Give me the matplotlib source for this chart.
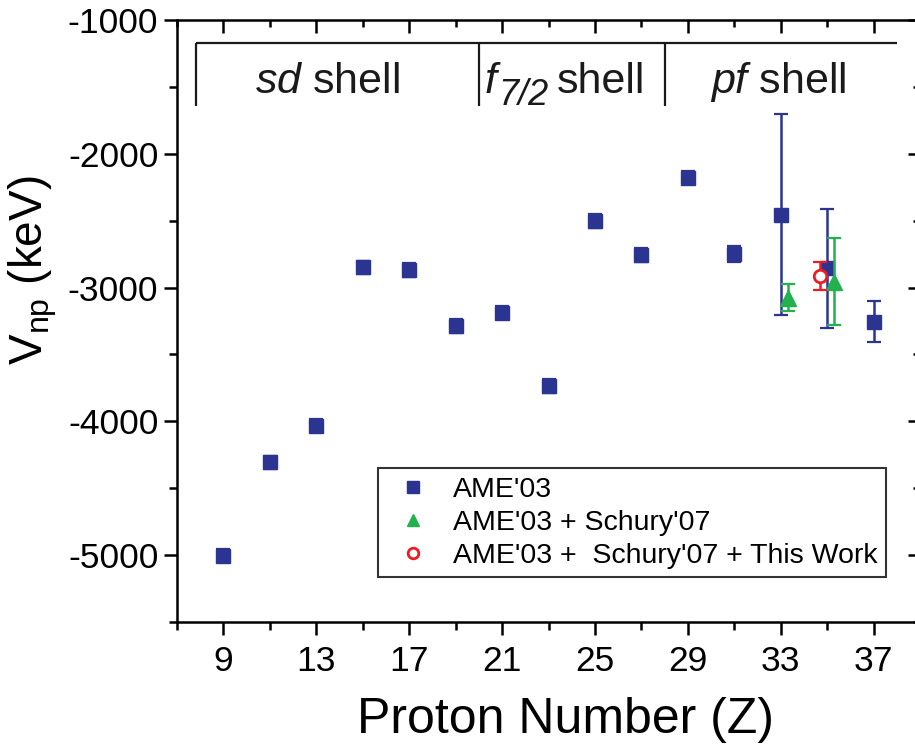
import numpy as np
import matplotlib
matplotlib.use("Agg")
from matplotlib import pyplot as plt

plt.rcParams["font.family"] = "Liberation Sans"
plt.rcParams["mathtext.fontset"] = "custom"
plt.rcParams["mathtext.rm"] = "Liberation Sans"
plt.rcParams["mathtext.it"] = "Liberation Sans:italic"
plt.rcParams["axes.unicode_minus"] = False

# data (V_np in keV)
z_ame = [9, 11, 13, 15, 17, 19, 21, 23, 25, 27, 29, 31, 33, 35, 37]
v_ame = [-5005, -4307, -4033, -2849, -2869, -3288, -3188, -3736, -2503, -2757,
         -2179, -2750, -2456, -2857, -3255]
err_ame = [50, 50, 50, 50, 50, 50, 50, 50, 50, 50, 50, 57, 750, 444, 152]

z_schury = [33.3, 35.3]
v_schury = [-3075, -2955]
err_schury = [100, 325]

z_this = [34.7]
v_this = [-2912]
err_this = [105]

# shell regions (Z boundaries)
shell_edges = [7.8, 20, 28, 38]

blue = "#2B3591"
green = "#22B14C"
red = "#ED1C24"
ink = "#1a1a1a"

fig = plt.figure(figsize=(9.15, 7.51), dpi=100)
ax = fig.add_axes([177 / 915, 129 / 751, (920 - 177) / 915, 602 / 751])

# error bars first, markers on top
ax.errorbar(z_ame, v_ame, yerr=err_ame, fmt="none", ecolor=blue, elinewidth=1.8,
            capsize=5, capthick=1.6, zorder=2)
ax.plot(z_ame, v_ame, "s", color=blue, ms=10, label="AME'03", zorder=3)

ax.errorbar(z_schury, v_schury, yerr=err_schury, fmt="none", ecolor=green, elinewidth=1.8,
            capsize=5.3, capthick=1.6, zorder=4)
ax.plot(z_schury, v_schury, "^", color=green, ms=11, label="AME'03 + Schury'07", zorder=5)

ax.errorbar(z_this, v_this, yerr=err_this, fmt="none", ecolor=red, elinewidth=1.8,
            capsize=4.8, capthick=1.6, zorder=6)
ax.plot(z_this, v_this, "o", mfc="white", mec=red, mew=2.0, ms=9,
        label="AME'03 +  Schury'07 + This Work", zorder=7)

# shell bracket
ax.plot([shell_edges[0], shell_edges[-1]], [-1174, -1174], color=ink, lw=1.6,
        solid_capstyle="butt", zorder=1)
for e in shell_edges[:-1]:
    ax.plot([e, e], [-1174, -1643], color=ink, lw=1.6, solid_capstyle="butt", zorder=1)

ax.text(13.5, -1548, r"$\mathit{sd}$ shell", ha="center", va="baseline", fontsize=31, color=ink)
ax.text(32.9, -1548, r"$\mathit{pf}$ shell", ha="center", va="baseline", fontsize=31, color=ink)
# f_{7/2} shell, built from pieces so the subscript keeps its large size
ax.annotate("f", (20.25, -1548), ha="left", va="baseline", fontsize=31,
            style="italic", color=ink)
ax.annotate("7/2", (20.25, -1548), xytext=(9.5, -8.6), textcoords="offset points",
            ha="left", va="baseline", fontsize=26, style="italic", color=ink)
ax.annotate("shell", (20.25, -1548), xytext=(52, 0), textcoords="offset points",
            ha="left", va="baseline", fontsize=31, color=ink)

ax.set_xlim(7, 39)
ax.set_ylim(-5500, -1000)
ax.set_xticks(range(9, 38, 4))
ax.set_xticks(range(7, 40, 4), minor=True)
ax.set_yticks(range(-5000, -999, 1000))
ax.set_yticks(range(-5500, -999, 1000), minor=True)

for s in ax.spines.values():
    s.set_linewidth(1.8)
ax.tick_params(which="major", direction="out", length=9.5, width=1.8, labelsize=25.5)
ax.tick_params(which="minor", direction="out", length=5.5, width=1.8)
ax.tick_params(axis="x", which="major", pad=7)
ax.tick_params(axis="y", which="major", pad=4)

# mirrored inward ticks on top and right
top = ax.secondary_xaxis("top")
top.set_xticks(range(9, 38, 4))
top.set_xticks(range(7, 40, 4), minor=True)
top.tick_params(which="major", direction="in", length=9, width=1.8, labeltop=False)
top.tick_params(which="minor", direction="in", length=5, width=1.8)
right = ax.secondary_yaxis("right")
right.set_yticks(range(-5000, -999, 1000))
right.set_yticks(range(-5500, -999, 1000), minor=True)
right.tick_params(which="major", direction="in", length=9, width=1.8, labelright=False)
right.tick_params(which="minor", direction="in", length=5, width=1.8)

ax.set_xlabel("Proton Number (Z)", fontsize=36)
ax.xaxis.set_label_coords(0.5235, -0.125)
ax.set_ylabel(r"V$_{\mathrm{np}}$ (keV)", fontsize=33)
ax.yaxis.set_label_coords(-0.159, 0.585)

leg = ax.legend(loc="upper left", bbox_to_anchor=(378 / 915, 1 - 468 / 751),
                bbox_transform=fig.transFigure, borderaxespad=0, fontsize=20.5,
                fancybox=False, framealpha=1, edgecolor="#333333", handlelength=1.85,
                handletextpad=0.47, labelspacing=0.25, borderpad=0.3, markerscale=0.85)
leg.get_frame().set_linewidth(1.5)

fig.savefig("out.png", dpi=100)
